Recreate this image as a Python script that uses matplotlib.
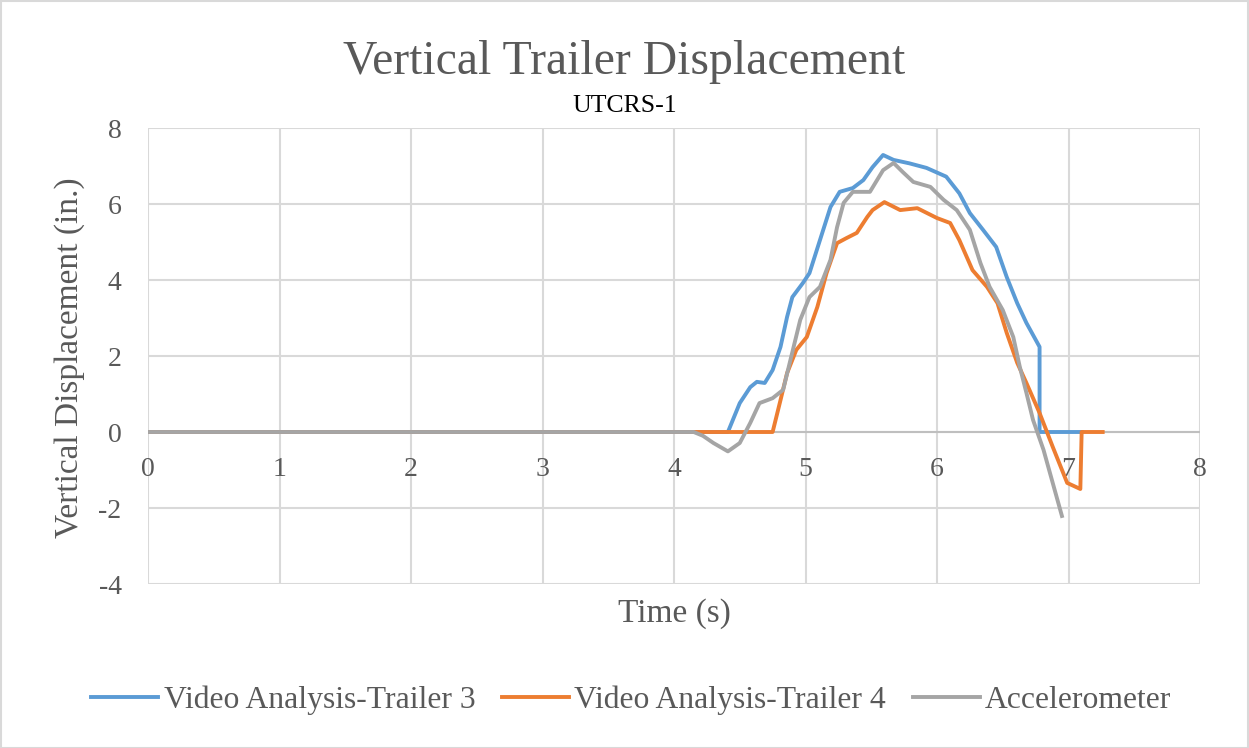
import matplotlib
matplotlib.use("Agg")
from matplotlib import pyplot as plt
from matplotlib.patches import Rectangle

plt.rcParams['font.family'] = ['Liberation Serif', 'DejaVu Serif']
plt.rcParams['axes.unicode_minus'] = False

# Video Analysis - Trailer 3
t3 = [0, 4.41, 4.50, 4.58, 4.63, 4.69, 4.75, 4.81, 4.86, 4.90, 4.98, 5.03, 5.11, 5.19,
      5.26, 5.36, 5.44, 5.51, 5.59, 5.67, 5.79, 5.92, 6.07, 6.17, 6.25, 6.35, 6.45,
      6.53, 6.61, 6.68, 6.78, 6.78, 7.10]
v3 = [0, 0, 0.76, 1.18, 1.32, 1.29, 1.63, 2.24, 3.03, 3.55, 3.92, 4.18, 5.05, 5.92,
      6.32, 6.42, 6.63, 6.97, 7.29, 7.16, 7.07, 6.95, 6.72, 6.28, 5.76, 5.32, 4.87,
      4.08, 3.39, 2.87, 2.24, 0, 0]

# Video Analysis - Trailer 4
t4 = [0, 4.75, 4.81, 4.86, 4.93, 5.01, 5.09, 5.16, 5.24, 5.31, 5.39, 5.47, 5.51, 5.60,
      5.72, 5.85, 6.00, 6.10, 6.17, 6.27, 6.38, 6.46, 6.53, 6.61, 6.68, 6.78, 6.88,
      6.99, 7.09, 7.10, 7.26]
v4 = [0, 0, 0.84, 1.55, 2.16, 2.50, 3.29, 4.18, 4.97, 5.10, 5.24, 5.66, 5.84, 6.05,
      5.84, 5.89, 5.63, 5.50, 5.05, 4.26, 3.82, 3.39, 2.61, 1.82, 1.29, 0.50, -0.39,
      -1.34, -1.50, 0, 0]

# Accelerometer
ta = [0, 4.15, 4.22, 4.30, 4.41, 4.50, 4.58, 4.65, 4.75, 4.83, 4.88, 4.96, 5.03, 5.11,
      5.19, 5.24, 5.29, 5.36, 5.41, 5.49, 5.59, 5.67, 5.74, 5.82, 5.95, 6.05, 6.15,
      6.25, 6.33, 6.40, 6.50, 6.58, 6.63, 6.68, 6.73, 6.81, 6.88, 6.95]
va = [0, 0, -0.10, -0.29, -0.51, -0.29, 0.24, 0.76, 0.89, 1.11, 1.82, 2.95, 3.55, 3.82,
      4.53, 5.39, 6.03, 6.32, 6.32, 6.32, 6.89, 7.08, 6.84, 6.58, 6.45, 6.11, 5.84,
      5.32, 4.45, 3.82, 3.21, 2.50, 1.71, 1.03, 0.32, -0.47, -1.34, -2.21]

W, H = 1249, 748
fig = plt.figure(figsize=(W / 100, H / 100), dpi=100)
ax = fig.add_axes([148 / W, 1 - 584 / H, 1052 / W, 456 / H])

ax.plot(t3, v3, color="#5B9BD5", linewidth=2.8, label="Video Analysis-Trailer 3", zorder=3)
ax.plot(t4, v4, color="#ED7D31", linewidth=2.8, label="Video Analysis-Trailer 4", zorder=4)
ax.plot(ta, va, color="#A5A5A5", linewidth=2.8, label="Accelerometer", zorder=5)
ax.axhline(0, color="#BFBFBF", linewidth=1.5, zorder=2)

ax.set_xlim(0, 8)
ax.set_ylim(-4, 8)
ax.set_xticks(range(0, 9))
ax.set_yticks(range(-4, 9, 2))
ax.grid(True, color="#D9D9D9", linewidth=1.5, zorder=1)
ax.set_axisbelow(True)
for s in ax.spines.values():
    s.set_visible(False)
ax.spines['bottom'].set_position(('data', 0))
ax.tick_params(axis='both', length=0, labelsize=20, labelcolor="#595959")
ax.tick_params(axis='x', pad=18)
ax.tick_params(axis='y', pad=19)

fig.text(0.5, 1 - 74 / H, "Vertical Trailer Displacement", ha='center', va='baseline',
         fontsize=34.4, color="#595959")
fig.text(0.5, 1 - 112 / H, "UTCRS-1", ha='center', va='baseline', fontsize=18.5, color="black")
fig.text(674 / W, 1 - 622 / H, "Time (s)", ha='center', va='baseline', fontsize=24, color="#595959")
fig.text(70 / W, 1 - 358 / H, "Vertical Displacement (in.)", ha='center', va='center',
         rotation=90, fontsize=24, color="#595959")

fig.legend(loc='center', bbox_to_anchor=(0.5 + 7 / W, 1 - 700 / H), ncol=3, frameon=False,
           fontsize=22.8, labelcolor="#595959", handlelength=2.1, handletextpad=0.18,
           columnspacing=0.85)

fig.patches.append(Rectangle((0.5 / W, 0.5 / H), 1 - 1.5 / W, 1 - 1.5 / H, transform=fig.transFigure,
                             fill=False, edgecolor="#D9D9D9", linewidth=1.5))

fig.savefig("out.png", dpi=100)
